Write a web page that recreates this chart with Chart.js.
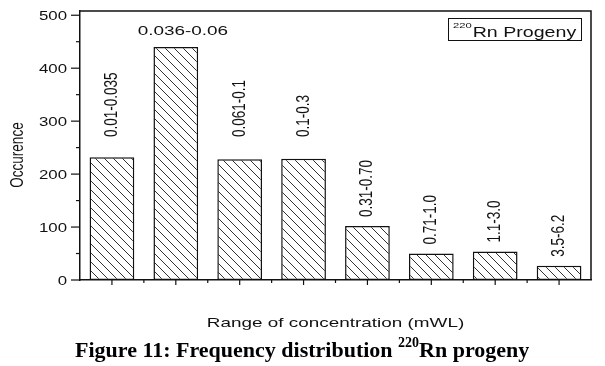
<!DOCTYPE html>
<html>
<head>
<meta charset="utf-8">
<script src="https://cdn.jsdelivr.net/npm/chart.js@4"></script>
<style>
  body { margin: 0; background: #fff; }
  #wrap { width: 605px; height: 366px; position: relative; }
</style>
</head>
<body>
<div id="wrap"><canvas id="freqChart"></canvas></div>
<script>
const categories = ["0.01-0.035", "0.036-0.06", "0.061-0.1", "0.1-0.3", "0.31-0.70", "0.71-1.0", "1.1-3.0", "3.5-6.2"];
const occurence = [232, 440, 228, 229, 102, 50, 54, 27];
const yTickLabels = [0, 100, 200, 300, 400, 500];
const yMinorTicks = [50, 150, 250, 350, 450];

// the original figure is stretched sideways, so text gets the same stretch
const SX = 1.4;
const SANS = '"Liberation Sans", Arial, sans-serif';

function stretchText(ctx, text, x, y, size, align, rotate) {
    ctx.save();
    ctx.translate(x, y);
    ctx.scale(SX, 1);
    if (rotate) ctx.rotate(-Math.PI / 2);
    ctx.font = size + "px " + SANS;
    ctx.textAlign = align;
    ctx.textBaseline = "alphabetic";
    ctx.fillStyle = "#111";
    ctx.fillText(text, 0, 0);
    ctx.restore();
}

function hatchPattern() {
    const c = document.createElement("canvas");
    c.width = 9;
    c.height = 9;
    const g = c.getContext("2d");
    g.fillStyle = "#fff";
    g.fillRect(0, 0, 9, 9);
    g.strokeStyle = "#333";
    g.lineWidth = 1;
    for (let k = -1; k <= 1; k++) {
        g.beginPath();
        g.moveTo(k * 9, 0);
        g.lineTo(k * 9 + 9, 9);
        g.stroke();
    }
    return g.createPattern(c, "repeat");
}

const decorations = {
    id: "decorations",
    beforeDraw(chart) {
        const ctx = chart.ctx;
        ctx.save();
        ctx.fillStyle = "#fff";
        ctx.fillRect(0, 0, chart.width, chart.height);
        ctx.restore();
    },
    afterDraw(chart) {
        const ctx = chart.ctx;
        const area = chart.chartArea;
        const x = chart.scales.x;
        const y = chart.scales.y;
        ctx.save();
        ctx.strokeStyle = "#111";
        ctx.lineWidth = 1.5;

        // top and right frame
        ctx.beginPath();
        ctx.moveTo(area.left, area.top);
        ctx.lineTo(area.right, area.top);
        ctx.lineTo(area.right, area.bottom);
        ctx.stroke();

        // y ticks
        ctx.lineWidth = 1.2;
        yTickLabels.forEach((v) => {
            const py = y.getPixelForValue(v);
            ctx.beginPath();
            ctx.moveTo(area.left - 9, py);
            ctx.lineTo(area.left, py);
            ctx.stroke();
            stretchText(ctx, String(v), area.left - 13, py + 4.5, 12, "right", false);
        });
        yMinorTicks.forEach((v) => {
            const py = y.getPixelForValue(v);
            ctx.beginPath();
            ctx.moveTo(area.left - 4, py);
            ctx.lineTo(area.left, py);
            ctx.stroke();
        });

        // x ticks: long at the bar centres, short between bars
        const step = x.getPixelForValue(1) - x.getPixelForValue(0);
        categories.forEach((c, i) => {
            const px = x.getPixelForValue(i);
            ctx.beginPath();
            ctx.moveTo(px, area.bottom);
            ctx.lineTo(px, area.bottom + 5);
            ctx.stroke();
            if (i > 0) {
                ctx.beginPath();
                ctx.moveTo(px - step / 2, area.bottom);
                ctx.lineTo(px - step / 2, area.bottom + 3);
                ctx.stroke();
            }
        });

        // range labels above the bars; tall bars share one label height
        const meta = chart.getDatasetMeta(0);
        meta.data.forEach((bar, i) => {
            if (bar.y < 60) {
                stretchText(ctx, categories[i], bar.x + 7, bar.y - 12, 13.5, "center", false);
            } else {
                const base = occurence[i] > 150 ? y.getPixelForValue(270) : bar.y - 9;
                stretchText(ctx, categories[i], bar.x + 5, base, 13.5, "left", true);
            }
        });

        // axis titles
        stretchText(ctx, "Occurence", 23, 155, 13.5, "center", true);
        stretchText(ctx, "Range of concentration (mWL)", (area.left + area.right) / 2, 327, 13.5, "center", false);

        // legend box
        ctx.lineWidth = 1;
        ctx.strokeRect(448.5, 18.5, 133, 22);
        ctx.font = "8px " + SANS;
        const supW = ctx.measureText("220").width * SX;
        stretchText(ctx, "220", 453, 27.5, 8, "left", false);
        stretchText(ctx, "Rn Progeny", 453 + supW + 1, 37, 14, "left", false);

        // figure caption
        ctx.fillStyle = "#000";
        ctx.textAlign = "left";
        ctx.textBaseline = "alphabetic";
        ctx.font = 'bold 22px "Liberation Serif", "Times New Roman", serif';
        let cx = 75;
        const part1 = "Figure 11: Frequency distribution ";
        ctx.fillText(part1, cx, 357);
        cx += ctx.measureText(part1).width;
        ctx.font = 'bold 14px "Liberation Serif", "Times New Roman", serif';
        ctx.fillText("220", cx, 347);
        cx += ctx.measureText("220").width;
        ctx.font = 'bold 22px "Liberation Serif", "Times New Roman", serif';
        ctx.fillText("Rn progeny", cx, 357);
        ctx.restore();
    },
};

const ctx = document.getElementById("freqChart");
new Chart(ctx, {
    type: "bar",
    data: {
        labels: categories,
        datasets: [
            {
                label: "220Rn Progeny",
                data: occurence,
                backgroundColor: hatchPattern(),
                borderColor: "#111",
                borderWidth: 1.5,
                borderSkipped: false,
                categoryPercentage: 1,
                barPercentage: 0.7,
            },
        ],
    },
    options: {
        responsive: true,
        maintainAspectRatio: false,
        animation: false,
        layout: { padding: { top: 11, right: 14, left: 0, bottom: 0 } },
        scales: {
            x: {
                offset: true,
                afterFit: (s) => { s.height = 86; },
                grid: { display: false, drawTicks: false },
                border: { display: true, color: "#111", width: 1.5 },
                ticks: { display: false },
            },
            y: {
                min: 0,
                max: 508,
                afterFit: (s) => { s.width = 80; },
                grid: { display: false, drawTicks: false },
                border: { display: true, color: "#111", width: 1.5 },
                ticks: { display: false },
            },
        },
        plugins: {
            legend: { display: false },
            tooltip: { enabled: false },
        },
    },
    plugins: [decorations],
});
</script>
</body>
</html>
